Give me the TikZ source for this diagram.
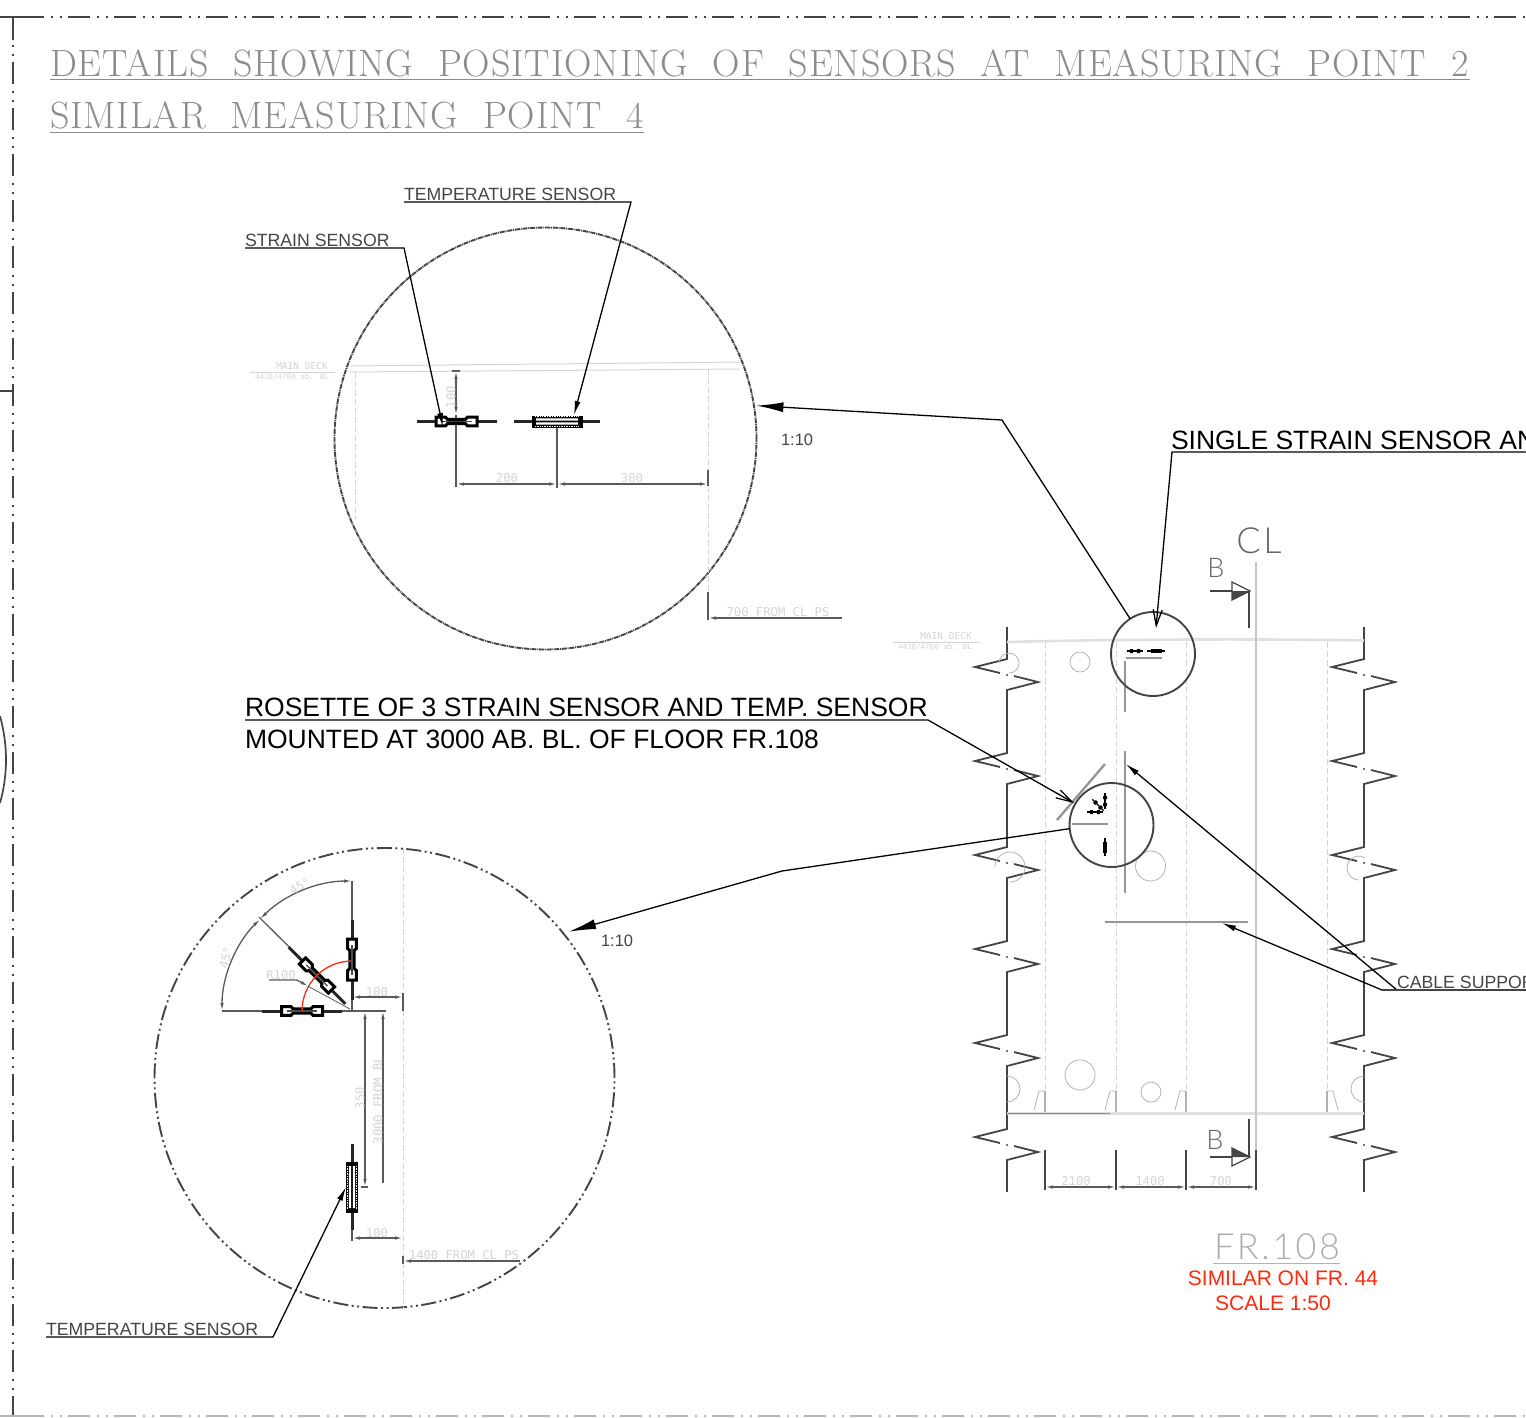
\documentclass[tikz,border=0pt]{standalone}
\usepackage{fontspec}
\setmainfont{Liberation Sans}
\newfontfamily\titlefont[LetterSpace=2.35]{Latin Modern Roman}
\newfontfamily\dimfont{DejaVu Sans Mono}
\newfontfamily\thinfont[UprightFont=* Light, LetterSpace=7]{Lato}
\usepackage{tikz}
\usetikzlibrary{arrows.meta,positioning}
\definecolor{inkgrey}{HTML}{444444}
\definecolor{dimgrey}{HTML}{5A5A5A}
\definecolor{fadegrey}{HTML}{D4D4D4}
\definecolor{bargrey}{HTML}{969696}
\definecolor{notered}{HTML}{FF2A10}

\begin{document}
\begin{tikzpicture}[
    x=1pt, y=-1pt,
    every node/.style={inner sep=0pt, outer sep=0pt},
    headline/.style={anchor=base west, font=\titlefont\fontsize{38}{38}\selectfont, text=black!45},
    smallnote/.style={anchor=base west, font=\fontsize{17.7}{17.7}\selectfont, text=inkgrey},
    bignote/.style={anchor=base west, font=\fontsize{26.5}{26.5}\selectfont, text=black},
    rednote/.style={anchor=base, font=\fontsize{21}{21}\selectfont, text=notered},
    scalenote/.style={anchor=base west, font=\fontsize{16.5}{16.5}\selectfont, text=inkgrey},
    dimtext/.style={font=\dimfont\fontsize{12.2}{12.2}\selectfont, text=fadegrey},
    decktext/.style={font=\dimfont\fontsize{#1}{#1}\selectfont, text=fadegrey},
    sectiontext/.style={font=\thinfont\fontsize{#1}{#1}\selectfont, text=black!60},
    detailcircle/.style={circle, draw=inkgrey, line width=1.9pt, minimum size=#1},
    leader/.style={line width=1.3pt, draw=black},
    bighead/.style={-{Latex[length=27pt, width=10pt]}},
    midhead/.style={-{Latex[length=14pt, width=6pt]}},
    openhead/.style={-{Straight Barb[length=16pt, width=9pt]}},
    dimline/.style={line width=1.3pt, draw=dimgrey},
    dimboth/.style={dimline, {Latex[length=8pt, width=3.5pt]}-{Latex[length=8pt, width=3.5pt]}},
    dimstart/.style={dimline, {Latex[length=8pt, width=3.5pt]}-},
    deckline/.style={line width=2.6pt, draw=black!12},
    faintdash/.style={line width=1pt, draw=fadegrey, dash pattern=on 6pt off 3pt},
    cutout/.style={line width=.8pt, draw=black!30},
    barline/.style={line width=2.4pt, draw=bargrey},
    sheetline/.style={line width=1.8pt, draw=inkgrey, dash pattern=on 22pt off 7pt on 2pt off 7pt on 2pt off 6pt},
    breakline/.style={line width=1.8pt, draw=inkgrey},
    strainsensor/.pic={
        \draw[line width=3pt, black!85] (-40,0) -- (-21,0) (21,0) -- (40,0);
        \draw[line width=3pt, black, fill=white] (-20.5,-4.4) -- (-11,-4.4) -- (-9,-2.2) -- (9,-2.2) -- (11,-4.4) -- (20.5,-4.4)
            -- (20.5,4.4) -- (11,4.4) -- (9,2.2) -- (-9,2.2) -- (-11,4.4) -- (-20.5,4.4) -- cycle;
        \draw[line width=1.2pt, black!70] (-15,0) -- (15,0);
    },
    tempsensor/.pic={
        \draw[line width=3pt, black!85] (-43,0) -- (-25,0) (25,0) -- (43,0);
        \fill[black] (-25.5,-6) rectangle (25.5,6);
        \fill[white] (-21,-3.2) rectangle (21,-.9) (-21,.9) rectangle (21,3.2);
        \draw[line width=.7pt, white, densely dotted] (-22,-4.8) -- (22,-4.8) (-22,4.8) -- (22,4.8);
    },
    tinystrain/.pic={
        \draw[line width=1.4pt, black] (-8,0) -- (8,0);
        \fill[black] (-5,-2) rectangle (-2,2) (2,-2) rectangle (5,2);
    },
    tinytemp/.pic={
        \draw[line width=1.4pt, black] (-9,0) -- (9,0);
        \fill[black] (-5.5,-2.2) rectangle (5.5,2.2);
    }
]
\useasboundingbox (0,0) rectangle (1526,1417);
\clip (0,0) rectangle (1526,1417);

% Sheet frame
\coordinate (frameA) at (44,17);
\coordinate (frameB) at (1526,17);
\coordinate (frameC) at (13,40);
\coordinate (frameD) at (13,1417);
\draw[line width=1.8pt, inkgrey] (0,17) -- (frameA);
\draw[line width=1.8pt, inkgrey] (13,17) -- (frameC);
\draw[sheetline, dash phase=22pt] (frameA) -- (frameB);
\draw[sheetline, dash phase=24pt] (frameC) -- (frameD);
\draw[sheetline, draw=black!28, dash phase=22pt] (44,1416) -- (1526,1416);
\draw[line width=1.8pt, black!28] (0,1416) -- (44,1416);
\draw[line width=1.3pt, inkgrey] (0,391) -- (13,391);
\draw[line width=1.7pt, inkgrey] (0,716) .. controls (8,745) and (8,775) .. (0,803);

% Headings
\node[headline] (head1) at (50,76) {DETAILS\ \ SHOWING\ \ POSITIONING\ \ OF\ \ SENSORS\ \ AT\ \ MEASURING\ \ POINT\ \ 2};
\node[headline] (head2) at (50,128.5) {SIMILAR\ \ MEASURING\ \ POINT\ \ 4};
\draw[line width=.9pt, black!45] (50,79) -- (1470,79);
\draw[line width=.9pt, black!45] (50,132) -- (644,132);

% Upper detail
\node[detailcircle=422pt, dash pattern=on 5pt off .8pt on 1pt off .8pt] (detailA) at (545.5,438.5) {};
\draw[line width=1pt, fadegrey] (350,366) -- (740,362);
\draw[line width=1pt, fadegrey] (350,372) -- (740,369);
\draw[line width=.7pt, fadegrey] (250,372) -- (335,372);
\node[decktext=9.5] (deckA) at (302,366.5) {MAIN DECK};
\node[decktext=7.5] (deckB) at (292,377) {4438/4700 ab. BL};
\draw[faintdash] (355,372) -- (355,520);
\draw[faintdash] (708,369) -- (708,592);
\draw[dimboth] (456,371) -- (456,415);
\draw[dimline] (452,371) -- (460,371);
\draw[dimline] (456,415) -- (456,487);
\draw[dimline] (557,425) -- (557,488);
\draw[dimline] (708,470) -- (708,486);
\draw[dimboth] (456,484) -- (557,484);
\draw[dimboth] (557,484) -- (708,484);
\node[dimtext, rotate=90] (dimA) at (451,397) {100};
\node[dimtext] (dimB) at (507,478) {200};
\node[dimtext] (dimC) at (632,478) {300};
\pic at (456.5,421.5) {strainsensor};
\pic at (557,421.5) {tempsensor};
\draw[dimline] (708,592) -- (708,620);
\draw[dimstart] (708,618) -- (842,618);
\node[dimtext] (dimD) at (778,612) {700 FROM CL PS};
\node[smallnote] (labelTempA) at (404,200) {TEMPERATURE SENSOR};
\node[smallnote] (labelStrain) at (245,246) {STRAIN SENSOR};
\node[scalenote] (scaleA) at (781,445) {1:10};
\coordinate (tipStrain) at (443,427);
\coordinate (tipTemp) at (574,415);
\draw[leader, midhead] (245,248) -- (404,248) -- (tipStrain);
\draw[leader, midhead] (404,202) -- (631,202) -- (tipTemp);

% Lower detail
\node[detailcircle=460pt, dash pattern=on 15pt off 3.5pt on 2pt off 3.5pt on 2pt off 3.5pt] (detailB) at (384.5,1078) {};
\draw[faintdash] (403,848) -- (403,1308);
\draw[dimline] (222,1011) -- (386,1011);
\draw[dimline] (352,881) -- (352,1011);
\draw[dimline] (259,917) -- (308.4,966);
\draw[dimboth] (222,1011) arc[start angle=180, end angle=225, radius=130];
\draw[dimboth] (260.1,919.1) arc[start angle=225, end angle=270, radius=130];
\pic at (302,1011) {strainsensor};
\pic[rotate=90] at (352,959.5) {strainsensor};
\pic[rotate=-45] at (317,975.5) {strainsensor};
\pic[rotate=90] at (352,1187) {tempsensor};
\draw[line width=1.3pt, notered] (302,1011) arc[start angle=180, end angle=270, radius=50];
\draw[dimboth] (352,997) -- (403,997);
\draw[dimline] (403,993) -- (403,1011);
\draw[dimboth] (365,1011) -- (365,1187);
\draw[dimline] (361,1187) -- (368,1187);
\draw[dimstart] (383,1011) -- (383,1183);
\draw[dimboth] (352,1238) -- (403,1238);
\draw[dimline] (352,1230) -- (352,1241);
\draw[dimline] (403,1256) -- (403,1264);
\draw[dimstart] (403,1261) -- (520,1261);
\draw[dimline, -{Latex[length=8pt, width=3.5pt]}] (269,980) -- (297,980) -- (308.4,986.4);
\draw[line width=.8pt, dimgrey] (308.4,986.4) -- (350,1009);
\node[dimtext, rotate=30] (dimE) at (300,886) {45°};
\node[dimtext, rotate=75] (dimF) at (226,958) {45°};
\node[dimtext] (dimG) at (281,975) {R100};
\node[dimtext] (dimH) at (377,992) {100};
\node[dimtext, rotate=90] (dimI) at (360,1098) {350};
\node[dimtext, rotate=90] (dimJ) at (378,1100) {3000 FROM BL};
\node[dimtext] (dimK) at (377,1233) {100};
\node[dimtext] (dimL) at (464,1255) {1400 FROM CL PS};
\node[scalenote] (scaleB) at (601,946) {1:10};
\node[smallnote] (labelTempB) at (46,1335) {TEMPERATURE SENSOR};
\coordinate (tipTempB) at (346,1187);
\draw[leader, midhead] (46,1337) -- (273,1337) -- (tipTempB);

% Section FR.108
\foreach \xbreak in {1007,1364} {
    \foreach \ybreak in {659,753,847,941,1035,1129} {
        \draw[breakline] (\xbreak,\ybreak-32) -- (\xbreak,\ybreak) -- (\xbreak-32,\ybreak+8) -- (\xbreak-7,\ybreak+14);
        \draw[breakline] (\xbreak+7,\ybreak+17) -- (\xbreak+31,\ybreak+23) -- (\xbreak,\ybreak+31) -- (\xbreak,\ybreak+62);
        \fill[inkgrey] (\xbreak,\ybreak+16) circle (1.1pt);
    }
    \draw[breakline] (\xbreak,1160) -- (\xbreak,1192);
}
\draw[deckline] (1007,642) .. controls (1100,639.5) and (1250,638.5) .. (1364,640.5);
\draw[deckline] (1007,1113.5) -- (1364,1113.5);
\draw[line width=1pt, black!45] (1007,1113) -- (1110,1113);
\draw[line width=.7pt, fadegrey] (893,642) -- (980,642);
\node[decktext=9.5] (deckC) at (946,636) {MAIN DECK};
\node[decktext=7.5] (deckD) at (935,647) {4438/4700 ab. BL};
\foreach \xweb in {1045,1116,1186,1327} {
    \draw[faintdash] (\xweb,642) -- (\xweb,1091);
    \draw[line width=1.3pt, black!30] (\xweb,1091) -- (\xweb,1112);
}
\foreach \xweb in {1045,1116,1186} {
    \draw[cutout] (\xweb-11,1110) -- (\xweb-6,1091) -- (\xweb,1091);
}
\draw[cutout] (1338,1110) -- (1333,1091) -- (1327,1091);
\draw[line width=1.2pt, black!22] (1256,562) -- (1256,1150);
\draw[cutout] (1080,662) circle (10);
\draw[cutout] (999,663) arc[start angle=180, end angle=450, radius=10];
\draw[cutout] (1150.5,866) circle (15);
\draw[cutout] (995,867) arc[start angle=180, end angle=450, radius=15];
\draw[cutout] (1080,1075) circle (15);
\draw[cutout] (1151,1092) circle (10);
\draw[cutout] (1007,1076) arc[start angle=270, end angle=450, radius=13];
\draw[cutout] (1364,1076) arc[start angle=270, end angle=90, radius=13];
\draw[cutout] (1365,857.6) arc[start angle=300, end angle=90, radius=12];
\node[sectiontext=36] (markCL) at (1259,541) {CL};
\node[sectiontext=27] (markB) at (1216,568) {B};
\node[sectiontext=27] (markC) at (1215,1140) {B};
% section arrows, filled half differs
\foreach \ysec/\ytop/\ylow/\yfill in {591/591/628/9,1157/1119/1157/-9} {
    \draw[line width=1.2pt, inkgrey] (1249,\ytop) -- (1249,\ylow);
    \draw[line width=1.2pt, inkgrey] (1210,\ysec) -- (1232,\ysec);
    \fill[inkgrey] (1232,\ysec+\yfill) -- (1250,\ysec) -- (1232,\ysec) -- cycle;
    \draw[line width=1.2pt, inkgrey] (1232,\ysec-9) -- (1250,\ysec) -- (1232,\ysec+9) -- cycle;
}
\foreach \xdim in {1045,1116,1186,1256} {
    \draw[line width=1.3pt, inkgrey] (\xdim,1150) -- (\xdim,1190);
}
\draw[dimboth] (1045,1187) -- (1116,1187);
\draw[dimboth] (1116,1187) -- (1186,1187);
\draw[dimboth] (1186,1187) -- (1256,1187);
\node[dimtext] (dimM) at (1076,1181) {2100};
\node[dimtext] (dimN) at (1150,1181) {1400};
\node[dimtext] (dimO) at (1221,1181) {700};

% Bars and sensors on the section
\draw[barline] (1126,658) -- (1162,658);
\draw[barline] (1125,661) -- (1125,712);
\draw[barline] (1057,820) -- (1105,764);
\draw[barline] (1072,824) -- (1108,824);
\draw[barline] (1125,751) -- (1125,893);
\draw[barline] (1105,922) -- (1248,922);
\pic at (1135,651) {tinystrain};
\pic at (1156,651) {tinytemp};
\pic at (1095,812) {tinystrain};
\pic[rotate=90] at (1105,801) {tinystrain};
\pic[rotate=-45] at (1098,805) {tinystrain};
\pic[rotate=90] at (1105,847) {tinytemp};
\node[detailcircle=84pt] (spotA) at (1153,654) {};
\node[detailcircle=84pt] (spotB) at (1111.5,825) {};

% Notes and leaders
\node[bignote] (labelSingle) at (1171,449) {SINGLE STRAIN SENSOR AN};
\coordinate (tipSingle) at (1156,628);
\draw[leader, openhead] (1526,452) -- (1172,452) -- (tipSingle);
\node[bignote] (labelRosette) at (245,716) {ROSETTE OF 3 STRAIN SENSOR AND TEMP. SENSOR};
\node[bignote] (labelMount) at (245,748) {MOUNTED AT 3000 AB. BL. OF FLOOR FR.108};
\coordinate (tipRosette) at (1074,803);
\draw[leader, openhead] (245,720) -- (928,720) -- (tipRosette);
\draw[leader, bighead, shorten >=2.5pt] (spotA.123) -- (1002,420) -- (detailA.9.65);
\draw[leader, bighead, shorten >=6pt] (spotB.185.6) -- (782,871) -- (detailB.39);
\node[smallnote] (labelCable) at (1397,988) {CABLE SUPPOR};
\coordinate (tipBar) at (1126,764);
\coordinate (tipFlat) at (1222,923);
\draw[leader, midhead] (1397,990) -- (tipBar);
\draw[leader, midhead] (1382,990) -- (tipFlat);
\draw[leader, draw=inkgrey] (1382,990) -- (1526,990);
\node[sectiontext=36, text=black!32] (labelFrame) at (1277,1247) {FR.108};
\draw[line width=.8pt, black!30] (1213,1263) -- (1340,1263);
\node[rednote] (labelSimilar) at (1283,1285) {SIMILAR ON FR. 44};
\node[rednote] (labelScale) at (1273,1310) {SCALE 1:50};
\end{tikzpicture}
\end{document}
